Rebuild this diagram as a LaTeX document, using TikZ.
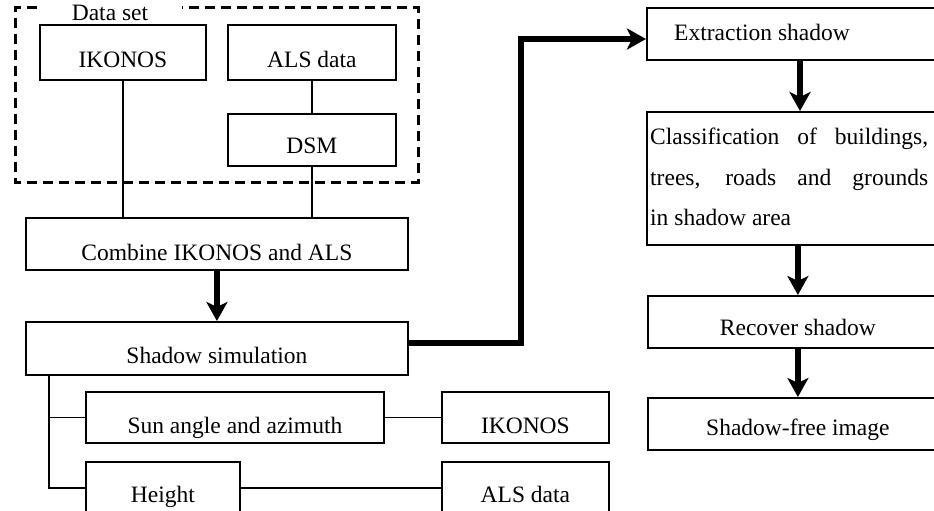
\documentclass[tikz,border=0pt]{standalone}
\usepackage{fontspec}
\setmainfont{Liberation Serif}
\usetikzlibrary{arrows.meta}
\begin{document}
\begin{tikzpicture}[x=1pt,y=-1pt,
  box/.style={draw, line width=1.8pt, inner xsep=0pt, inner ysep=0pt, anchor=north west, font=\fontsize{23.5pt}{28pt}\selectfont},
  thin/.style={line width=1.8pt},
  big/.style={line width=6.5pt, -{Stealth[length=19pt,width=21pt,inset=5pt]}},
  lbl/.style={inner sep=0pt, font=\fontsize{23.5pt}{28pt}\selectfont}]
\useasboundingbox (0,0) rectangle (934,511);

% data set group
\draw[line width=3pt, dash pattern=on 10pt off 6pt] (37,8) -- (15,8) -- (15,182) -- (418,182) -- (418,8) -- (182,8);
\node[lbl, anchor=base] (ds) at (110,21) {Data set};

\node[box, minimum width=166pt, text height=43pt, text depth=12pt] (ik1) at (39,24) {IKONOS};
\node[box, minimum width=168pt, text height=43pt, text depth=12pt] (als1) at (227,24) {ALS data};
\node[box, minimum width=168pt, text height=40pt, text depth=12pt] (dsm) at (227,113) {DSM};
\node[box, minimum width=382pt, text height=43pt, text depth=9pt] (comb) at (25,217) {Combine IKONOS and ALS};
\node[box, minimum width=382pt, text height=42pt, text depth=11pt] (shsim) at (25,321) {Shadow simulation};
\node[box, minimum width=298pt, text height=42pt, text depth=9pt] (sun) at (85,391) {Sun angle and azimuth};
\node[box, minimum width=167pt, text height=42pt, text depth=9pt] (ik2) at (441,391) {IKONOS};
\node[box, minimum width=154pt, text height=41pt, text depth=11pt] (height) at (85,461) {Height};
\node[box, minimum width=167pt, text height=41pt, text depth=11pt] (als2) at (441,461) {ALS data};

% right column
\node[box, minimum width=300pt, minimum height=52pt] (ext) at (646,7) {};
\node[lbl, anchor=base] (extT) at (762,41) {Extraction shadow};
\node[box, minimum width=300pt, minimum height=133pt] (cls) at (646,111) {};
\node[lbl, anchor=west, align=left, font=\fontsize{23.5pt}{40.5pt}\selectfont] (clsT) at (650,177)
  {\makebox[278pt][s]{Classification of buildings,}\\\makebox[278pt][s]{trees, roads and grounds}\\in shadow area};
\node[box, minimum width=300pt, text height=40pt, text depth=12pt] (rec) at (647,295) {Recover shadow};
\node[box, minimum width=300pt, text height=38pt, text depth=14pt] (sfree) at (647,397) {Shadow-free image};

% connectors
\draw[thin] (ik1.south) -- (ik1.south |- comb.north);
\draw[thin] (als1.south) -- (dsm.north);
\draw[thin] (dsm.south) -- (dsm.south |- comb.north);
\draw[big] (comb.south) -- (shsim.north);
\coordinate (vx) at (521,343);
\coordinate (hy) at (521,39);
\draw[big] (shsim.east |- vx) -- (vx) -- (hy) -- (ext.west |- hy);
\coordinate (ax) at (800,0);
\draw[big] (ext.south -| ax) -- (cls.north -| ax);
\draw[big] (cls.south -| rec.north) -- (rec.north);
\draw[big] (rec.south) -- (sfree.north);
\coordinate (tr) at (49,0);
\draw[thin] (shsim.south -| tr) |- (height.west);
\draw[thin] (sun.west -| tr) -- (sun.west);
\draw[thin] (sun.east) -- (ik2.west);
\draw[thin] (height.east) -- (als2.west);
\end{tikzpicture}
\end{document}
